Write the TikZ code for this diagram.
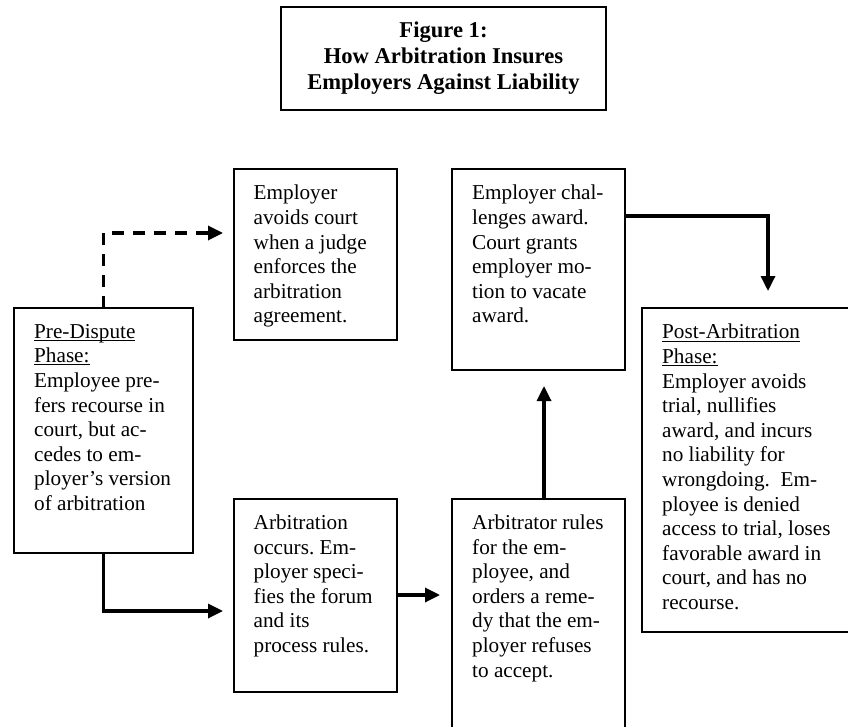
\documentclass[tikz,border=0pt]{standalone}
\usepackage{fontspec}
\setmainfont{Liberation Serif}
\usetikzlibrary{arrows.meta}

\newcommand{\phasehead}[1]{\underline{\raisebox{0pt}[\height][0.4pt]{#1}}}
\frenchspacing

\tikzset{
  box/.style={draw, line width=2pt, anchor=north west, inner sep=0pt, outer sep=0pt},
  txt/.style={anchor=north west, inner sep=0pt, align=left,
    font=\fontsize{21.2pt}{24.6pt}\selectfont},
  flow/.style={line width=3.3pt, -{Triangle[length=15pt, width=14pt]}},
  dashflow/.style={flow, dash pattern=on 12pt off 9pt}
}

\begin{document}
\begin{tikzpicture}[x=1pt, y=-1pt]
\useasboundingbox (0,0) rectangle (848,727);
\clip (0,0) rectangle (848,727);

% title
\node [box, minimum width=325pt, minimum height=103pt, align=center,
  font=\fontsize{22.6pt}{26pt}\selectfont\bfseries] (title) at (281,7)
  {Figure 1:\\ How Arbitration Insures\\ Employers Against Liability};

% boxes
\node [box, minimum width=178.5pt, minimum height=244.5pt] (pre) at (14,308) {};
\node [box, minimum width=163pt, minimum height=171pt] (avoid) at (233.5,169) {};
\node [box, minimum width=163pt, minimum height=193pt] (occurs) at (233.5,498.5) {};
\node [box, minimum width=173pt, minimum height=201pt] (challenge) at (452,169) {};
\node [box, minimum width=173pt, minimum height=260pt] (rules) at (452,498.5) {};
\node [box, minimum width=240pt, minimum height=324pt] (post) at (642,308) {};

% texts
\node [txt] (preText) at ([shift={(20,16)}]pre.north west)
  {\phasehead{Pre-Dispute}\\ \phasehead{Phase:}\\ Employee pre-\\ fers recourse in\\
   court, but ac-\\ cedes to em-\\ ployer's version\\ of arbitration};
\node [txt] (avoidText) at ([shift={(20,16)}]avoid.north west)
  {Employer\\ avoids court\\ when a judge\\ enforces the\\ arbitration\\ agreement.};
\node [txt] (occursText) at ([shift={(20,16)}]occurs.north west)
  {Arbitration\\ occurs. Em-\\ ployer speci-\\ fies the forum\\ and its\\ process rules.};
\node [txt] (challengeText) at ([shift={(20,16)}]challenge.north west)
  {Employer chal-\\ lenges award.\\ Court grants\\ employer mo-\\ tion to vacate\\ award.};
\node [txt] (rulesText) at ([shift={(20,16)}]rules.north west)
  {Arbitrator rules\\ for the em-\\ ployee, and\\ orders a reme-\\ dy that the em-\\
   ployer refuses\\ to accept.};
\node [txt] (postText) at ([shift={(20,16)}]post.north west)
  {\phasehead{Post-Arbitration}\\ \phasehead{Phase:}\\ Employer avoids\\ trial, nullifies\\
   award, and incurs\\ no liability for\\ wrongdoing.\ \ Em-\\ ployee is denied\\
   access to trial, loses\\ favorable award in\\ court, and has no\\ recourse.};

% arrow ends
\coordinate (dashEnd) at (223,233);
\coordinate (arbIn) at (223,611);
\coordinate (rulesIn) at (440,595);
\coordinate (challengeIn) at (544,386);
\coordinate (postIn) at (768,291);

\draw [dashflow] (pre.north) |- (dashEnd);
\draw [flow] (pre.south) |- (arbIn);
\draw [flow] (occurs.east) -- (rulesIn);
\draw [flow] (rules.north -| challengeIn) -- (challengeIn);
\draw [flow] ([shift={(0,47)}]challenge.north east) -| (postIn);
\end{tikzpicture}
\end{document}
